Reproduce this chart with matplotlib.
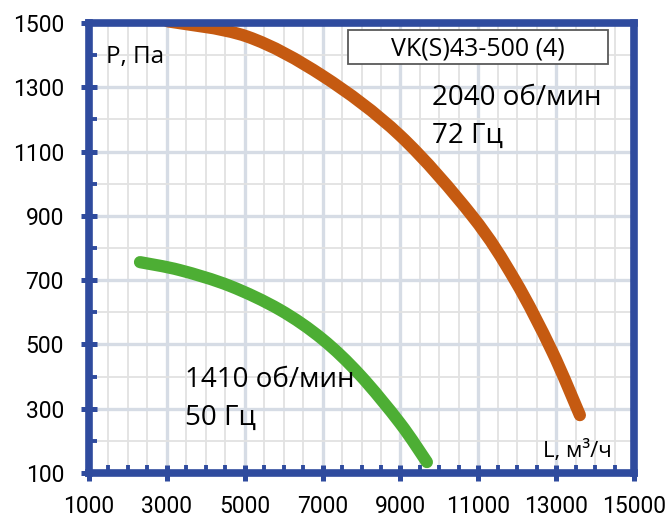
import matplotlib
matplotlib.use('Agg')
import matplotlib.pyplot as plt
from matplotlib.ticker import FixedLocator
from matplotlib.patches import Rectangle, PathPatch
from matplotlib.path import Path

# ---- data ----
L_1410 = [2310, 3340, 4620, 5900, 6990, 7960, 8990, 9680]
P_1410 = [756, 731, 682, 608, 517, 405, 255, 134]

L_2040 = [3030, 5060, 7010, 8990, 10840, 11940, 12890, 13610]
P_2040 = [1505, 1458, 1335, 1150, 900, 700, 480, 280]

x_major = [1000, 3000, 5000, 7000, 9000, 11000, 13000, 15000]
x_minor = [v for v in range(1500, 15000, 500) if v not in x_major]
y_major = [100, 300, 500, 700, 900, 1100, 1300, 1500]
y_minor = [200, 400, 600, 800, 1000, 1200, 1400]

title_text = "VK(S)43-500 (4)"
label_2040 = ["2040 об/мин", "72 Гц"]
label_1410 = ["1410 об/мин", "50 Гц"]
y_label = "P, Па"
x_label = "L, м³/ч"

# ---- styles ----
W, H = 671, 522
SPINE = "#2F4B9E"
ORANGE = "#C55A11"
GREEN = "#4DAE34"
TXT = ["Open Sans", "DejaVu Sans"]


def fx(x):
    return x / W


def fy(y):
    return 1 - y / H


def smooth_path(xs, ys):
    """Excel-like smoothed line: cubic Bezier segments through the points."""
    pts = list(zip(xs, ys))
    n = len(pts)
    verts = [pts[0]]
    codes = [Path.MOVETO]
    for i in range(n - 1):
        p0 = pts[i - 1] if i > 0 else pts[i]
        p1 = pts[i]
        p2 = pts[i + 1]
        p3 = pts[i + 2] if i + 2 < n else pts[i + 1]
        c1 = (p1[0] + (p2[0] - p0[0]) / 6, p1[1] + (p2[1] - p0[1]) / 6)
        c2 = (p2[0] - (p3[0] - p1[0]) / 6, p2[1] - (p3[1] - p1[1]) / 6)
        verts += [c1, c2, p2]
        codes += [Path.CURVE4] * 3
    return Path(verts, codes)


fig = plt.figure(figsize=(W / 100, H / 100), dpi=100)
left, right, top, bottom = 89, 634, 23, 473
ax = fig.add_axes([fx(left), fy(bottom), (right - left) / W, (bottom - top) / H])

ax.set_xlim(1000, 15000)
ax.set_ylim(100, 1500)

ax.xaxis.set_major_locator(FixedLocator(x_major))
ax.xaxis.set_minor_locator(FixedLocator(x_minor))
ax.yaxis.set_major_locator(FixedLocator(y_major))
ax.yaxis.set_minor_locator(FixedLocator(y_minor))

ax.set_axisbelow(True)
ax.grid(which='minor', color='#E2E2E2', lw=1.3)
ax.grid(which='major', color='#D6DCE5', lw=2.4)

for xs, ys, col in [(L_2040, P_2040, ORANGE), (L_1410, P_1410, GREEN)]:
    patch = PathPatch(smooth_path(xs, ys), facecolor='none', edgecolor=col,
                      lw=8.8, capstyle='round', joinstyle='round', zorder=3)
    ax.add_patch(patch)

for s in ax.spines.values():
    s.set_color(SPINE)
    s.set_linewidth(5.5)
    s.set_capstyle('projecting')
    s.set_zorder(4)

ax.tick_params(which='major', direction='inout', length=12, width=3.6,
               color=SPINE, labelsize=16.5, top=False, right=False)
ax.tick_params(which='minor', direction='in', length=6, width=2.8,
               color=SPINE, top=False, right=False)
ax.tick_params(axis='y', which='major', pad=12)
ax.tick_params(axis='x', which='major', pad=10)
for lab in ax.get_xticklabels() + ax.get_yticklabels():
    lab.set_family(["Roboto", "DejaVu Sans"])

# texts
fig.text(fx(106), fy(63), y_label, family=TXT, fontsize=17.5, va='baseline', ha='left')
fig.text(fx(612), fy(457), x_label, family=TXT, fontsize=16, va='baseline', ha='right')

fig.text(fx(432), fy(105), label_2040[0], family=TXT, fontsize=20, va='baseline', ha='left')
fig.text(fx(432), fy(143), label_2040[1], family=TXT, fontsize=20, va='baseline', ha='left')
fig.text(fx(185), fy(387), label_1410[0], family=TXT, fontsize=20, va='baseline', ha='left')
fig.text(fx(185), fy(425), label_1410[1], family=TXT, fontsize=20, va='baseline', ha='left')

# title box
bx0, bx1, by0, by1 = 348, 608, 30, 64
fig.patches.append(Rectangle((fx(bx0), fy(by1)), (bx1 - bx0) / W, (by1 - by0) / H,
                             transform=fig.transFigure, facecolor='white',
                             edgecolor='#595959', lw=1.3, zorder=5))
fig.text(fx((bx0 + bx1) / 2), fy(56), title_text, family=TXT, fontsize=18,
         va='baseline', ha='center', zorder=6)

fig.savefig("out.png", dpi=100)
